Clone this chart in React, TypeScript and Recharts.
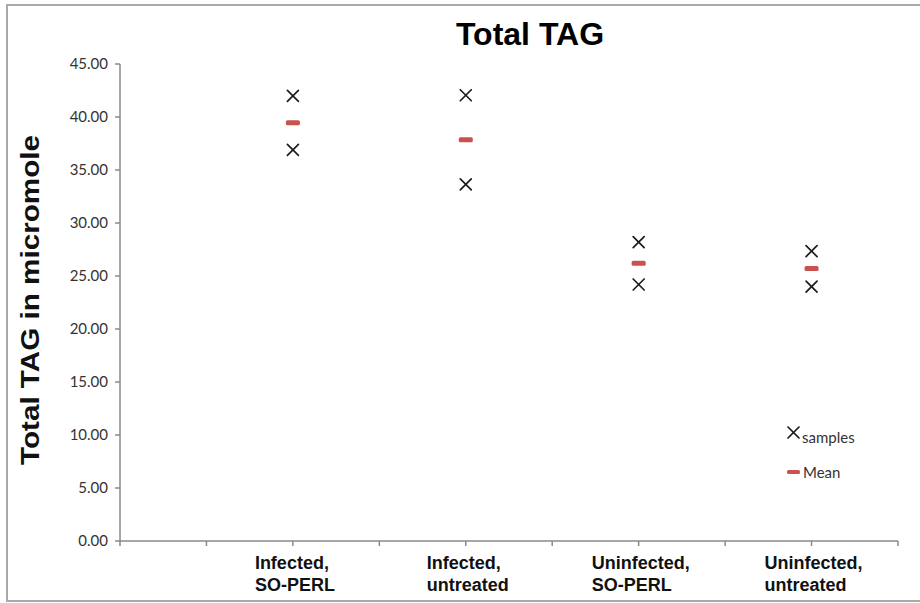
import React from "react";
import { ScatterChart, Scatter, XAxis, YAxis } from "recharts";

const categories = ["Infected,|SO-PERL", "Infected,|untreated", "Uninfected,|SO-PERL", "Uninfected,|untreated"];
const categoryPositions = [1, 2, 3, 4];
const samplesHigh = [42.0, 42.05, 28.2, 27.35];
const samplesLow = [36.9, 33.65, 24.2, 24.0];
const means = [39.45, 37.85, 26.2, 25.7];
const xTicks = [0, 0.5, 1, 1.5, 2, 2.5, 3, 3.5, 4, 4.5];
const yTicks = [0, 5, 10, 15, 20, 25, 30, 35, 40, 45];

const sampleData = categoryPositions.flatMap((x, i) => [
  { x, y: samplesHigh[i] },
  { x, y: samplesLow[i] },
]);
const meanData = categoryPositions.map((x, i) => ({ x, y: means[i] }));

const AXIS_COLOR = "#8a8a8a";
const MEAN_COLOR = "#c9524e";

let canvasCtx: CanvasRenderingContext2D | null = null;
function measure(text: string, font: string): number {
  if (!canvasCtx) {
    const c = document.createElement("canvas");
    canvasCtx = c.getContext("2d");
  }
  if (!canvasCtx) return text.length * 9;
  canvasCtx.font = font;
  return canvasCtx.measureText(text).width;
}

const LABEL_FONT = "bold 18px 'Liberation Sans', Arial, sans-serif";

const CategoryTick = (props: any) => {
  const { x, y, payload } = props;
  const idx = categoryPositions.indexOf(payload.value);
  if (idx < 0) return null;
  const lines = categories[idx].split("|");
  const w = Math.max(...lines.map((l) => measure(l, LABEL_FONT)));
  const left = x - w / 2 + 2;
  return (
    <g>
      {lines.map((l, i) => (
        <text
          key={i}
          x={left}
          y={y + 21 + i * 22}
          textAnchor="start"
          fontFamily="'Liberation Sans', Arial, sans-serif"
          fontWeight="bold"
          fontSize={18}
          fill="#111"
        >
          {l}
        </text>
      ))}
    </g>
  );
};

const CrossShape = (props: any) => {
  const { cx, cy } = props;
  const r = 5.5;
  return (
    <g stroke="#1c1c1c" strokeWidth={1.7} strokeLinecap="round">
      <line x1={cx - r} y1={cy - r} x2={cx + r} y2={cy + r} />
      <line x1={cx - r} y1={cy + r} x2={cx + r} y2={cy - r} />
    </g>
  );
};

const MeanShape = (props: any) => {
  const { cx, cy } = props;
  return <rect x={cx - 7} y={cy - 2.5} width={14} height={5} rx={1.5} fill={MEAN_COLOR} />;
};

const LegendBox = () => (
  <div
    style={{
      position: "absolute",
      left: 786,
      top: 424,
      width: 120,
      fontFamily: "Lato, 'Open Sans', sans-serif",
      fontSize: 15,
      color: "#333",
    }}
  >
    <div style={{ position: "relative", height: 22 }}>
      <svg width={16} height={16} style={{ position: "absolute", left: 0, top: 1 }}>
        <g stroke="#1c1c1c" strokeWidth={1.7} strokeLinecap="round">
          <line x1={2} y1={2} x2={13} y2={13} />
          <line x1={2} y1={13} x2={13} y2={2} />
        </g>
      </svg>
      <span style={{ position: "absolute", left: 16, top: 4, lineHeight: "18px" }}>samples</span>
    </div>
    <div style={{ position: "relative", height: 22, marginTop: 18 }}>
      <svg width={16} height={16} style={{ position: "absolute", left: 0, top: 0 }}>
        <rect x={1} y={6} width={13} height={4} rx={1.5} fill={MEAN_COLOR} />
      </svg>
      <span style={{ position: "absolute", left: 17, top: -1, lineHeight: "18px" }}>Mean</span>
    </div>
  </div>
);

const YLabel = () => (
  <text
    x={30}
    y={300}
    transform="rotate(-90 30 300)"
    textAnchor="middle"
    dominantBaseline="central"
    fontFamily="'Liberation Sans', Arial, sans-serif"
    fontWeight="bold"
    fontSize={25}
    textLength={330}
    lengthAdjust="spacingAndGlyphs"
    fill="#111"
  >
    Total TAG in micromole
  </text>
);

export default function App() {
  return (
    <div style={{ position: "absolute", left: 0, top: 0, width: 920, height: 603, background: "#fff", overflow: "hidden" }}>
      <div
        style={{
          position: "absolute",
          left: 6,
          top: 4,
          width: 940,
          height: 598,
          border: "2px solid #a9a9a9",
          boxSizing: "border-box",
        }}
      />
      <div
        style={{
          position: "absolute",
          left: 380,
          top: 18,
          width: 300,
          textAlign: "center",
          fontFamily: "'Liberation Sans', Arial, sans-serif",
          fontWeight: "bold",
          fontSize: 32,
          lineHeight: "32px",
          color: "#000",
        }}
      >
        Total TAG
      </div>
      <div style={{ position: "absolute", left: 0, top: 0 }}>
        <ScatterChart width={920} height={603} margin={{ top: 64, right: 22, bottom: 2, left: 0 }}>
          <XAxis
            type="number"
            dataKey="x"
            domain={[0, 4.5]}
            ticks={xTicks}
            interval={0}
            allowDataOverflow
            height={60}
            axisLine={{ stroke: AXIS_COLOR, strokeWidth: 1.5 }}
            tickLine={{ stroke: AXIS_COLOR, strokeWidth: 1.5 }}
            tickSize={5}
            tick={<CategoryTick />}
          />
          <YAxis
            type="number"
            dataKey="y"
            domain={[0, 45]}
            ticks={yTicks}
            interval={0}
            width={120}
            axisLine={{ stroke: AXIS_COLOR, strokeWidth: 1.5 }}
            tickLine={{ stroke: AXIS_COLOR, strokeWidth: 1.5 }}
            tickSize={5}
            tickMargin={7}
            tickFormatter={(v: number) => v.toFixed(2)}
            tick={{ fontFamily: "Lato, 'Open Sans', sans-serif", fontSize: 15, fill: "#333" }}
            label={<YLabel />}
          />
          <Scatter name="samples" data={sampleData} shape={<CrossShape />} isAnimationActive={false} />
          <Scatter name="Mean" data={meanData} shape={<MeanShape />} isAnimationActive={false} />
        </ScatterChart>
      </div>
      <LegendBox />
    </div>
  );
}
